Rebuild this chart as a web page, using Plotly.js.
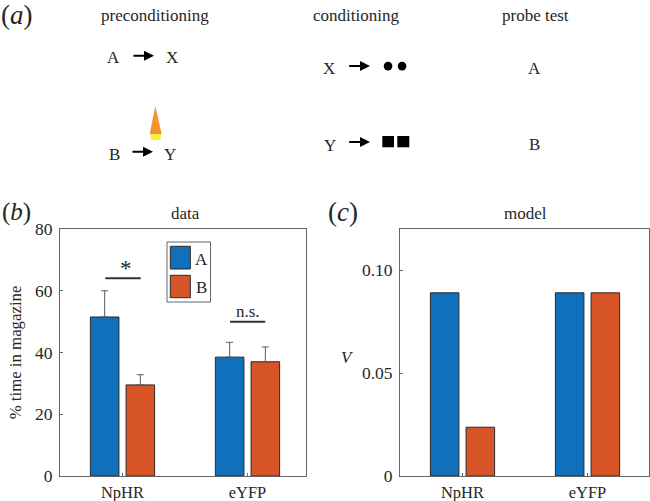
<!DOCTYPE html>
<html><head><meta charset="utf-8">
<script src="https://cdn.plot.ly/plotly-3.0.1.min.js"></script>
<style>html,body{margin:0;padding:0;background:#fff}</style></head>
<body><div id="chart" style="width:650px;height:501px"></div>
<script>
// ---- data ----
const groups = ['NpHR', 'eYFP'];
const dataA = [51.5, 38.5];
const dataB = [29.5, 37];
const errA = [8.5, 4.8];
const errB = [3.3, 4.8];
const modelA = [0.089, 0.089];
const modelB = [0.0237, 0.089];
const seriesNames = ['A', 'B'];
const dataTicks = [0, 20, 40, 60, 80];
const modelTicks = [0, 0.05, 0.1];
const modelTickLabels = ['0', '0.05', '0.10'];

// ---- style and page geometry ----
const W = 650, H = 501;
const FONT = '"Liberation Serif", serif';
const BLUE = '#1170BC', ORANGE = '#D75526', EDGE = '#2a2a2a', AXIS = '#666666', TXT = '#262626';
const px = x => x / W, py = y => 1 - y / H;

const annotations = [], shapes = [];
function label(text, x, y, size, extra) {
  annotations.push(Object.assign({xref:'paper', yref:'paper', x:px(x), y:py(y), text, showarrow:false,
    xanchor:'center', yanchor:'middle', font:{family:FONT, size:size||17, color:TXT}}, extra||{}));
}
function arrow(x0, x1, y) {
  annotations.push({xref:'paper', yref:'paper', x:px(x1), y:py(y), text:'', showarrow:true,
    axref:'pixel', ayref:'pixel', ax:x0 - x1, ay:0, arrowhead:2, arrowsize:1, arrowwidth:2, arrowcolor:'#000'});
}
function box(type, x0, y0, x1, y1, fill, line, lw) {
  shapes.push({type, xref:'paper', yref:'paper', fillcolor:fill, line:{color:line||fill, width:lw||0},
    x0:px(x0), x1:px(x1), y0:py(y0), y1:py(y1)});
}

// panel letters and titles
label('(<i>a</i>)', 17, 15, 27);
label('(<i>b</i>)', 16, 212, 25);
label('(<i>c</i>)', 343, 212, 27);
label('preconditioning', 155, 16);
label('conditioning', 356, 16);
label('probe test', 535.5, 16);
label('data', 185, 213);
label('model', 525, 213);

// schematic
label('A', 113.7, 57); arrow(132, 154, 55.7); label('X', 172.3, 57);
label('B', 114.3, 154); arrow(131, 153, 151.7); label('Y', 170.3, 154);
label('X', 329, 69); arrow(347.7, 370, 66);
label('Y', 329.5, 145); arrow(347.7, 370, 142);
label('A', 534, 68); label('B', 534, 144);
box('circle', 383.7, 61.7, 392.4, 70.4, '#000');
box('circle', 397.7, 61.7, 406.4, 70.4, '#000');
box('rect', 382.3, 136, 394, 147.3, '#000');
box('rect', 397.3, 136, 409.3, 147.3, '#000');
box('rect', 150.7, 133, 160.7, 140, '#FBEA3F');
shapes.push({type:'path', xref:'paper', yref:'paper', fillcolor:'#F49233', line:{width:0},
  path:`M ${px(149.7)} ${py(134)} L ${px(155.3)} ${py(106)} L ${px(161.7)} ${py(134)} Z`});

// legend of panel b
box('rect', 167, 242, 210.5, 302, '#fff', AXIS, 1);
box('rect', 170.3, 246.3, 190.3, 269, BLUE, EDGE, 1);
box('rect', 170.3, 275.3, 190.3, 297.7, ORANGE, EDGE, 1);
label(seriesNames[0], 201, 259);
label(seriesNames[1], 201, 287);

// significance marks
box('line', 105.3, 278.3, 140.7, 278.3, null, '#333', 2);
box('line', 230, 321.7, 265.3, 321.7, null, '#333', 2);
label('*', 126, 268, 23);
label('n.s.', 247.5, 311);

// y-axis title of panel c
label('<i>V</i>', 347, 357);

function bars(x, y, name, color, xa, ya, err) {
  const t = {type:'bar', x, y, name, xaxis:xa, yaxis:ya, showlegend:false,
    marker:{color, line:{color:EDGE, width:1}}};
  if (err) t.error_y = {type:'data', symmetric:false, array:err, arrayminus:[0,0], color:'#5a5a5a', thickness:1, width:3.5};
  return t;
}
const traces = [
  bars(groups, dataA, seriesNames[0], BLUE, 'x', 'y', errA),
  bars(groups, dataB, seriesNames[1], ORANGE, 'x', 'y', errB),
  bars(groups, modelA, seriesNames[0], BLUE, 'x2', 'y2'),
  bars(groups, modelB, seriesNames[1], ORANGE, 'x2', 'y2')
];

const common = {showline:true, linecolor:AXIS, linewidth:1, mirror:true, ticks:'inside', ticklen:3,
  tickcolor:AXIS, tickwidth:1, showgrid:false, zeroline:false, tickfont:{family:FONT, size:17.5, color:TXT}, fixedrange:true};
const xTickFont = {family:FONT, size:16.5, color:TXT};
const yDomain = [py(476), py(229)];

const layout = {
  width:W, height:H, autosize:false, margin:{l:0, r:0, t:0, b:0},
  paper_bgcolor:'#fff', plot_bgcolor:'#fff', showlegend:false,
  barmode:'group', bargap:0.429, bargroupgap:0.2,
  xaxis:Object.assign({}, common, {domain:[px(60), px(306)], anchor:'y', type:'category', range:[-0.5, 1.468], ticklabelstandoff:1, tickfont:xTickFont}),
  yaxis:Object.assign({}, common, {domain:yDomain, anchor:'x', range:[0, 80], tickvals:dataTicks, ticklabelstandoff:3,
    title:{text:'% time in magazine', font:{family:FONT, size:16.8, color:TXT}, standoff:9}}),
  xaxis2:Object.assign({}, common, {domain:[px(400), px(648.5)], anchor:'y2', type:'category', range:[-0.5, 1.488], ticklabelstandoff:1, tickfont:xTickFont}),
  yaxis2:Object.assign({}, common, {domain:yDomain, anchor:'x2', range:[0, 0.12], tickvals:modelTicks, ticktext:modelTickLabels, ticklabelstandoff:3}),
  annotations, shapes
};
Plotly.newPlot('chart', traces, layout, {staticPlot:true, displayModeBar:false});
</script></body></html>
